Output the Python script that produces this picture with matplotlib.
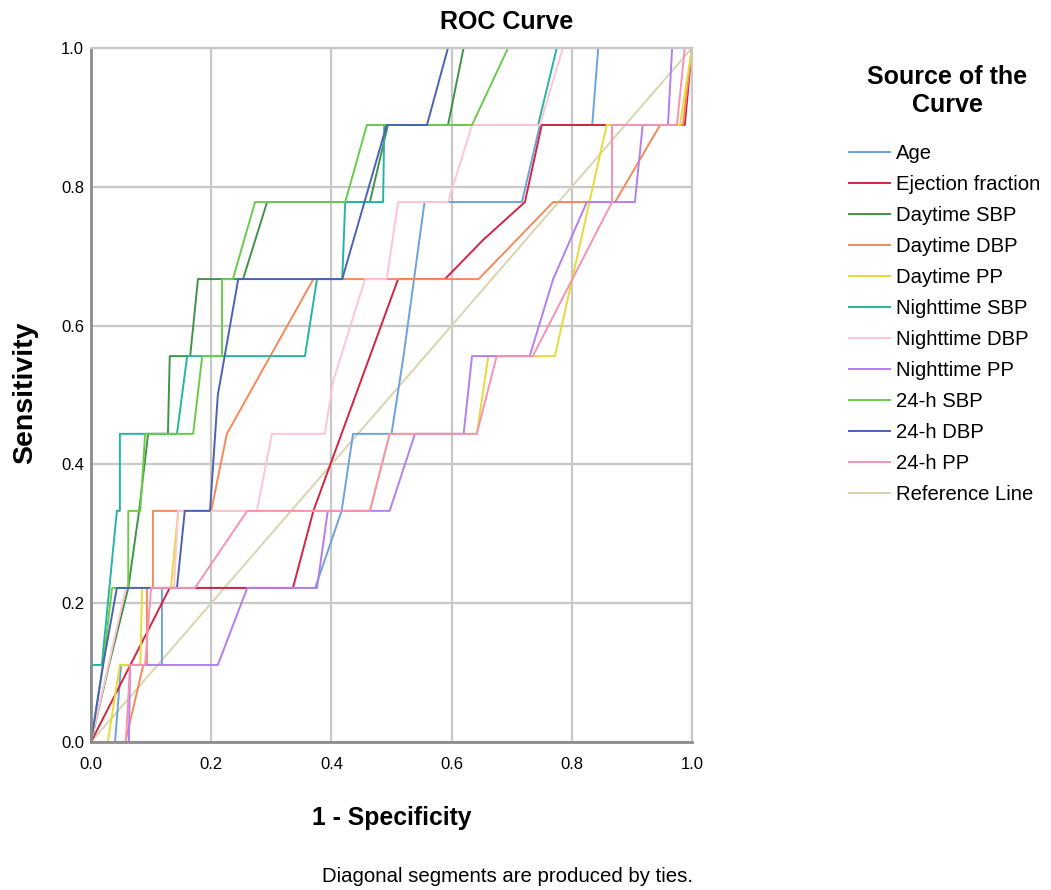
import matplotlib
matplotlib.use("Agg")
import matplotlib.pyplot as plt

plt.rcParams['font.family'] = ['Liberation Sans', 'DejaVu Sans']

labels = ["Age", "Ejection fraction", "Daytime SBP", "Daytime DBP", "Daytime PP",
          "Nighttime SBP", "Nighttime DBP", "Nighttime PP", "24-h SBP", "24-h DBP",
          "24-h PP", "Reference Line"]
colors = ["#6CA2E0", "#D4243F", "#3F9446", "#F5895A", "#E8DA38", "#27B4A0",
          "#FFC4D8", "#B47EF0", "#6ACB4C", "#4A62B2", "#F792B4", "#D9D4AE"]

age_x = [0, 0.04, 0.05, 0.118, 0.118, 0.373, 0.417, 0.436, 0.50, 0.52, 0.555, 0.717, 0.747, 0.834, 0.844, 1]
age_y = [0, 0, 0.111, 0.111, 0.222, 0.222, 0.333, 0.444, 0.444, 0.556, 0.778, 0.778, 0.889, 0.889, 1, 1]

ef_x = [0, 0.131, 0.336, 0.37, 0.511, 0.589, 0.652, 0.722, 0.75, 0.988, 1]
ef_y = [0, 0.222, 0.222, 0.333, 0.667, 0.667, 0.723, 0.778, 0.889, 0.889, 1]

dsbp_x = [0, 0.03, 0.062, 0.08, 0.095, 0.128, 0.131, 0.165, 0.178, 0.253, 0.293, 0.464, 0.494, 0.594, 0.62, 1]
dsbp_y = [0, 0.111, 0.222, 0.333, 0.444, 0.444, 0.556, 0.556, 0.667, 0.667, 0.778, 0.778, 0.889, 0.889, 1, 1]

ddbp_x = [0, 0.057, 0.087, 0.093, 0.093, 0.103, 0.103, 0.20, 0.226, 0.37, 0.645, 0.769, 0.872, 0.947, 0.985, 1]
ddbp_y = [0, 0, 0.111, 0.111, 0.222, 0.222, 0.333, 0.333, 0.444, 0.667, 0.667, 0.778, 0.778, 0.889, 0.889, 1]

dpp_x = [0, 0.028, 0.048, 0.082, 0.085, 0.133, 0.145, 0.464, 0.497, 0.642, 0.661, 0.772, 0.858, 0.98, 1]
dpp_y = [0, 0, 0.111, 0.111, 0.222, 0.222, 0.333, 0.333, 0.444, 0.444, 0.556, 0.556, 0.889, 0.889, 1]

nsbp_x = [0, 0, 0.018, 0.043, 0.048, 0.048, 0.143, 0.16, 0.356, 0.376, 0.418, 0.423, 0.486, 0.488, 0.744, 0.775, 1]
nsbp_y = [0, 0.111, 0.111, 0.333, 0.333, 0.444, 0.444, 0.556, 0.556, 0.667, 0.667, 0.778, 0.778, 0.889, 0.889, 1, 1]

ndbp_x = [0, 0.058, 0.138, 0.145, 0.276, 0.301, 0.389, 0.403, 0.456, 0.492, 0.511, 0.594, 0.634, 0.747, 0.785, 1]
ndbp_y = [0, 0.222, 0.222, 0.333, 0.333, 0.444, 0.444, 0.52, 0.667, 0.667, 0.778, 0.778, 0.889, 0.889, 1, 1]

npp_x = [0, 0.063, 0.065, 0.211, 0.26, 0.376, 0.394, 0.497, 0.539, 0.62, 0.634, 0.73, 0.769, 0.825, 0.905, 0.918, 0.96, 0.967, 1]
npp_y = [0, 0, 0.111, 0.111, 0.222, 0.222, 0.333, 0.333, 0.444, 0.444, 0.556, 0.556, 0.667, 0.778, 0.778, 0.889, 0.889, 1, 1]

hsbp_x = [0, 0.02, 0.035, 0.062, 0.062, 0.082, 0.09, 0.17, 0.185, 0.218, 0.218, 0.236, 0.273, 0.423, 0.459, 0.634, 0.694, 1]
hsbp_y = [0, 0.111, 0.222, 0.222, 0.333, 0.333, 0.444, 0.444, 0.556, 0.556, 0.667, 0.667, 0.778, 0.778, 0.889, 0.889, 1, 1]

hdbp_x = [0, 0.02, 0.043, 0.143, 0.156, 0.198, 0.211, 0.245, 0.418, 0.492, 0.559, 0.594, 1]
hdbp_y = [0, 0.111, 0.222, 0.222, 0.333, 0.333, 0.5, 0.667, 0.667, 0.889, 0.889, 1, 1]

hpp_x = [0, 0.058, 0.065, 0.09, 0.10, 0.173, 0.26, 0.464, 0.497, 0.642, 0.675, 0.735, 0.867, 0.867, 0.975, 0.988, 1]
hpp_y = [0, 0, 0.111, 0.111, 0.222, 0.222, 0.333, 0.333, 0.444, 0.444, 0.556, 0.556, 0.778, 0.889, 0.889, 1, 1]

ref_x = [0, 1]
ref_y = [0, 1]

series = [(age_x, age_y), (ef_x, ef_y), (dsbp_x, dsbp_y), (ddbp_x, ddbp_y), (dpp_x, dpp_y),
          (nsbp_x, nsbp_y), (ndbp_x, ndbp_y), (npp_x, npp_y), (hsbp_x, hsbp_y),
          (hdbp_x, hdbp_y), (hpp_x, hpp_y), (ref_x, ref_y)]

fig = plt.figure(figsize=(10.51, 8.9), dpi=100)
ax = fig.add_axes([0.0866, 0.1663, 0.5718, 0.7798])

ticks = [0.0, 0.2, 0.4, 0.6, 0.8, 1.0]
ax.set_xlim(0, 1)
ax.set_ylim(0, 1)
ax.set_xticks(ticks)
ax.set_yticks(ticks)
ax.set_xticklabels([f"{t:.1f}" for t in ticks], fontsize=12)
ax.set_yticklabels([f"{t:.1f}" for t in ticks], fontsize=12)
ax.tick_params(axis="x", length=0, pad=11)
ax.tick_params(axis="y", length=0, pad=5)
ax.grid(True, color="#C8C8C8", linewidth=1.6)
ax.set_axisbelow(True)
for s in ["top", "right"]:
    ax.spines[s].set_color("#C8C8C8")
    ax.spines[s].set_linewidth(1.6)
for s in ["left", "bottom"]:
    ax.spines[s].set_color("#8C8C8C")
    ax.spines[s].set_linewidth(2.0)

order = [11] + list(range(11))
lines = {}
for i in order:
    x, y = series[i]
    ln, = ax.plot(x, y, color=colors[i], linewidth=1.4, label=labels[i], clip_on=False)
    lines[i] = ln
handles = [lines[i] for i in range(12)]

fig.text(507 / 1051, 1 - 22 / 890, "ROC Curve", fontsize=18, fontweight="bold",
         ha="center", va="center")
fig.text(392 / 1051, 1 - 818 / 890, "1 - Specificity", fontsize=17.8, fontweight="bold",
         ha="center", va="center")
fig.text(25 / 1051, 1 - 393 / 890, "Sensitivity", fontsize=20.5, fontweight="bold",
         ha="center", va="center", rotation=90)

fig.text(947 / 1051, 1 - 91 / 890, "Source of the\nCurve", fontsize=18, fontweight="bold",
         ha="center", va="center", multialignment="center", linespacing=1.2)

leg = fig.legend(handles=handles, labels=labels, loc="upper left",
                 bbox_to_anchor=(849 / 1051, 1 - 144 / 890), frameon=False, fontsize=14.6,
                 handlelength=2.0, handletextpad=0.3, labelspacing=0.59,
                 borderpad=0, borderaxespad=0)

fig.text(507 / 1051, 1 - 877 / 890, "Diagonal segments are produced by ties.", fontsize=14.7,
         ha="center", va="center")

fig.savefig("out.png", dpi=100)
